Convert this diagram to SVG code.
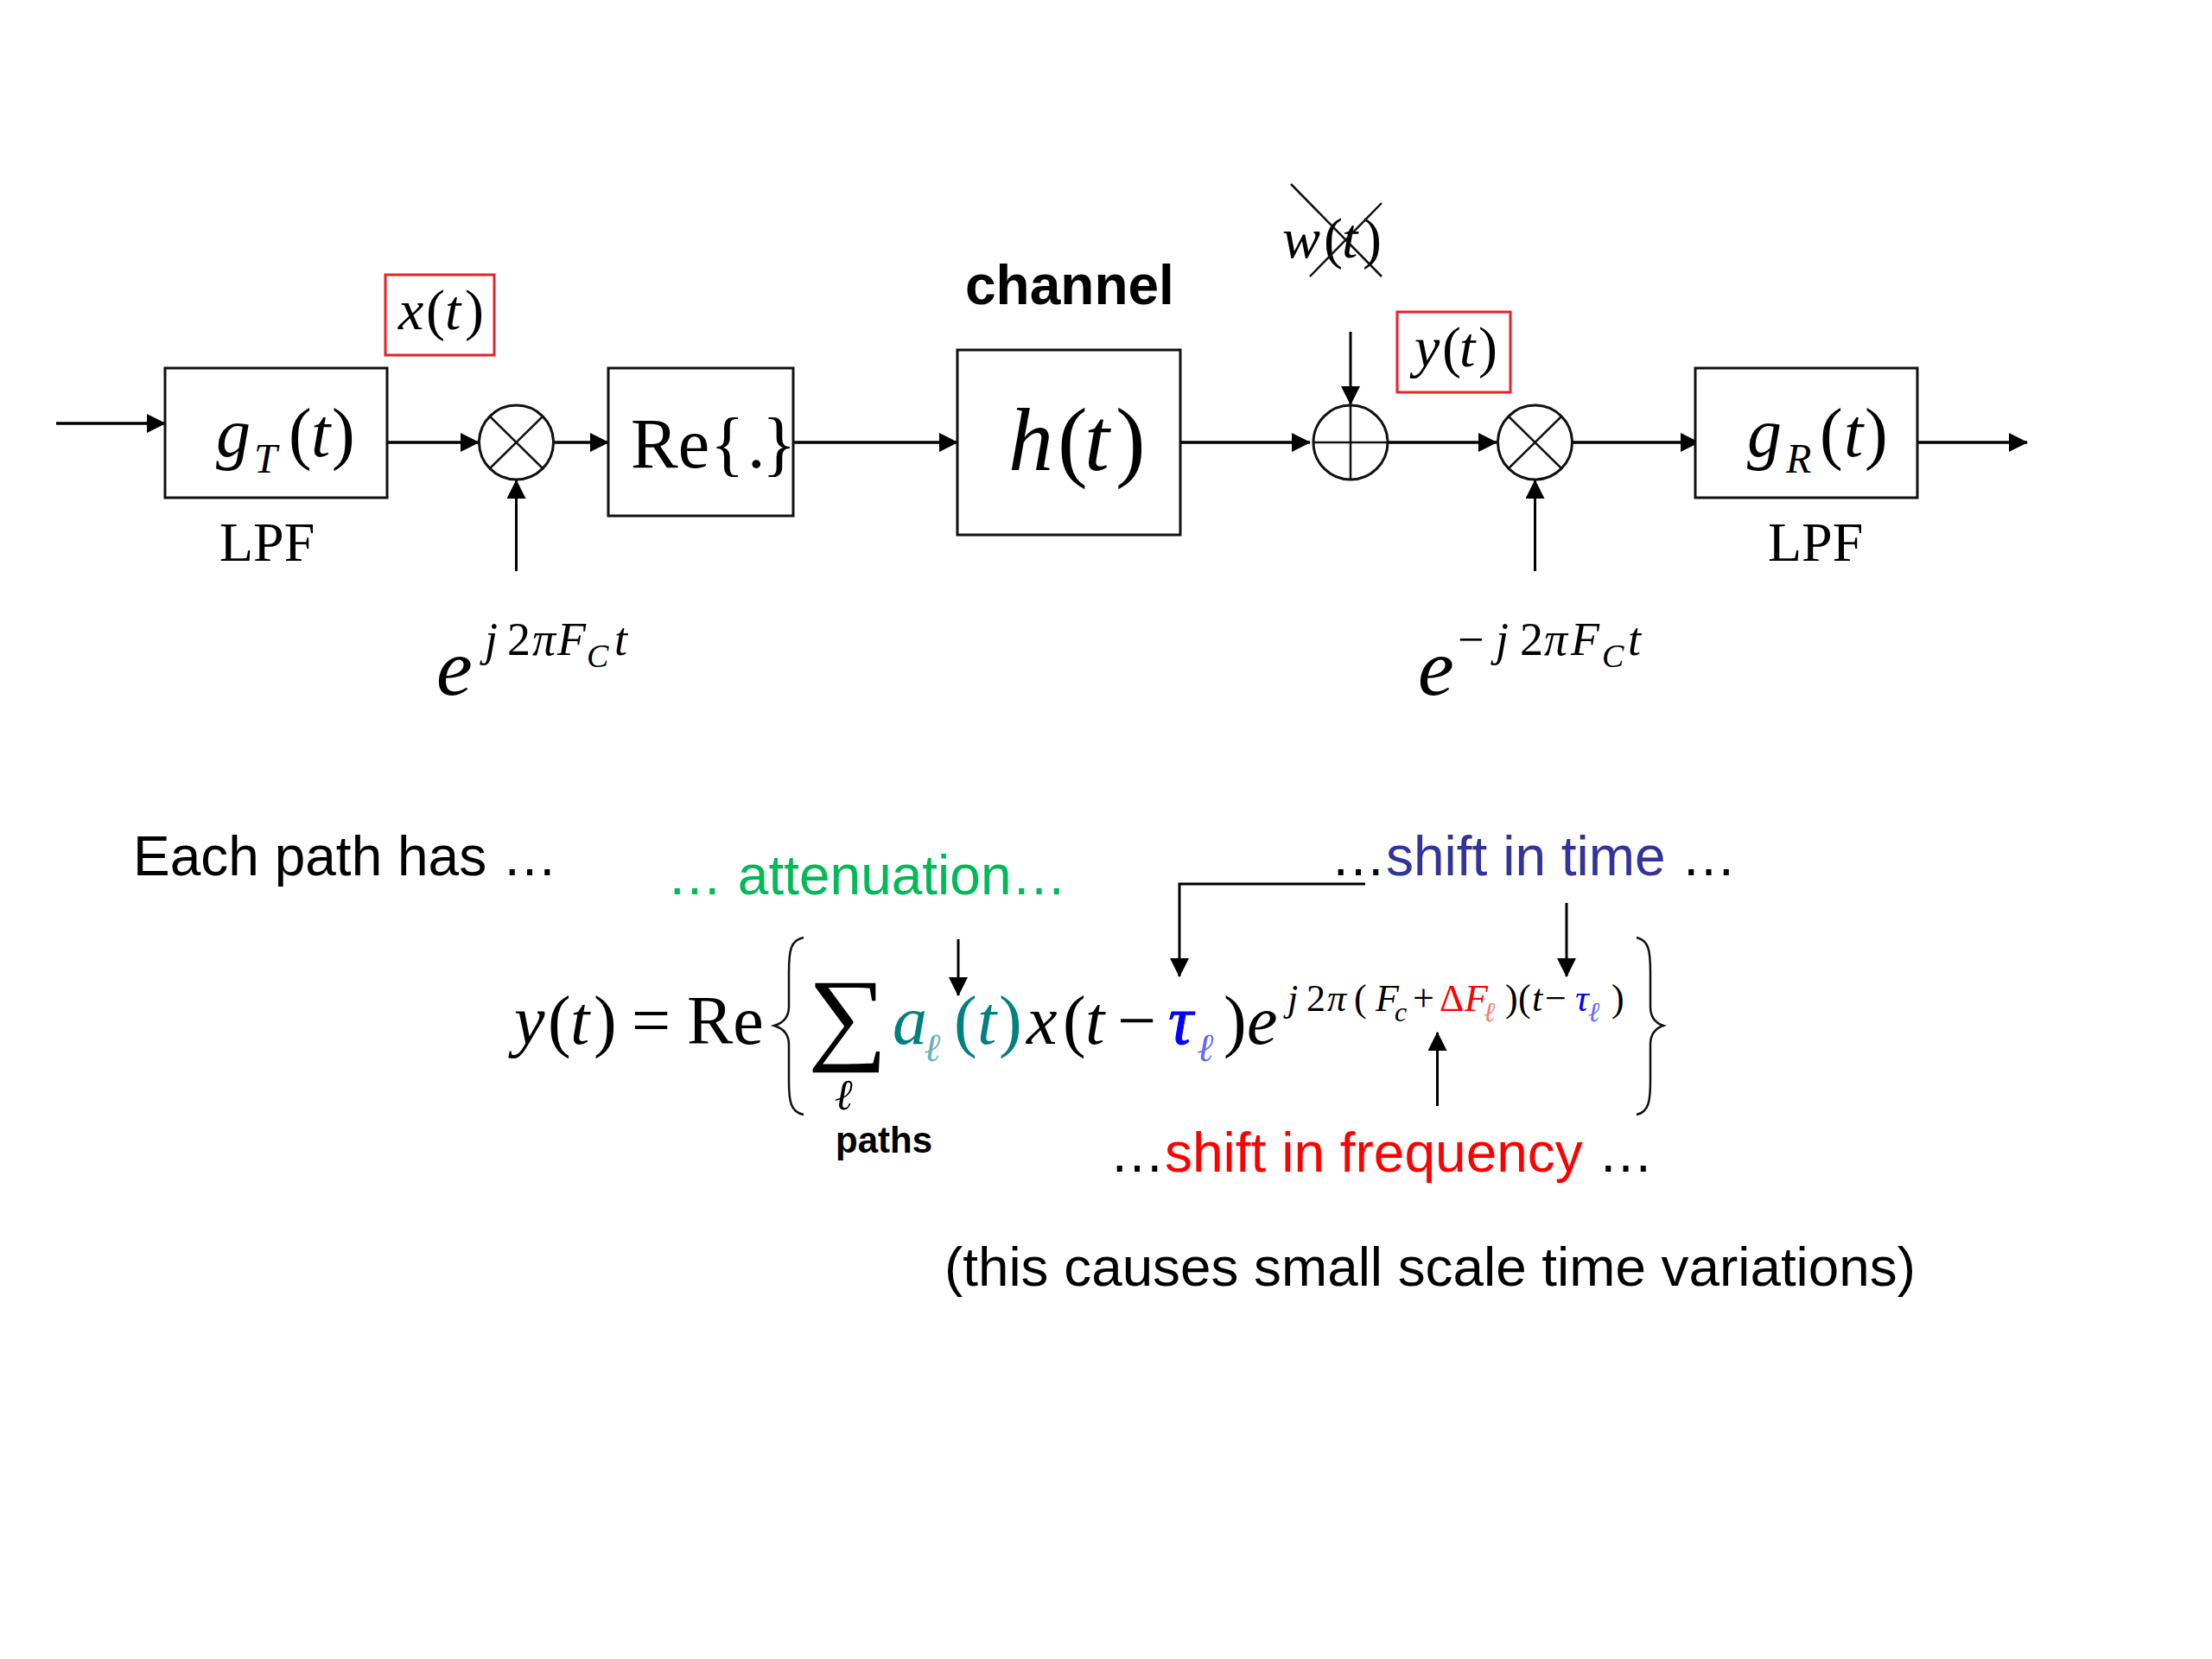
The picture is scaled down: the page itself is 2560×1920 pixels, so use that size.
<svg xmlns="http://www.w3.org/2000/svg" width="2560" height="1920" viewBox="0 0 2560 1920">
<style>
text{font-family:"Liberation Serif","DejaVu Serif",serif;fill:#000}
.i{font-style:italic}
.a{font-family:"Liberation Sans",Arial,sans-serif}
.box{fill:#fff;stroke:#111;stroke-width:3}
.red{fill:#fff;stroke:#e8202a;stroke-width:3}
.circ{fill:none;stroke:#111;stroke-width:3}
.thin{fill:none;stroke:#111;stroke-width:2.5}
.c{fill:none;stroke:#000;stroke-width:3.5}
.v{fill:none;stroke:#000;stroke-width:3}
.teal{fill:#008080}.lteal{fill:#66b3b3}.blue{fill:#0000ff}.lblue{fill:#6666ff}.redt{fill:#ff0000}.lred{fill:#ff7777}
</style>
<defs>
<marker id="ah" markerUnits="userSpaceOnUse" markerWidth="22" markerHeight="22" refX="21" refY="11" orient="auto"><path d="M0 0L22 11L0 22z" fill="#000"/></marker>
</defs>
<rect width="2560" height="1920" fill="#fff"/>
<g id="connectors">
<path class="c" d="M65 490H191" marker-end="url(#ah)"/>
<path class="c" d="M448 512H554" marker-end="url(#ah)"/>
<path class="c" d="M641 512H704" marker-end="url(#ah)"/>
<path class="c" d="M918 512H1108" marker-end="url(#ah)"/>
<path class="c" d="M1366 512H1516" marker-end="url(#ah)"/>
<path class="c" d="M1606 512H1732" marker-end="url(#ah)"/>
<path class="c" d="M1820 512H1966" marker-end="url(#ah)"/>
<path class="c" d="M2219 512H2346" marker-end="url(#ah)"/>
<path class="v" d="M597.500 661V556" marker-end="url(#ah)"/>
<path class="v" d="M1776.500 661V556" marker-end="url(#ah)"/>
<path class="v" d="M1563 384V468" marker-end="url(#ah)"/>
<path class="v" d="M1109 1087V1152" marker-end="url(#ah)"/>
<path class="v" d="M1580 1023H1365V1130" marker-end="url(#ah)"/>
<path class="v" d="M1813 1045V1130" marker-end="url(#ah)"/>
<path class="v" d="M1663.500 1280V1195" marker-end="url(#ah)"/>
</g>
<g id="gT"><rect class="box" x="191" y="426" width="257" height="150"/>
<text class="i" font-size="80" x="250" y="528">g</text><text class="i" font-size="48" x="294" y="547">T</text><text font-size="80" x="334" y="528">(</text><text class="i" font-size="80" x="360" y="528">t</text><text font-size="80" x="384" y="528">)</text></g>
<g id="lpf1"><text font-size="64" x="254" y="649">LPF</text></g>
<g id="xt"><rect class="red" x="446" y="318" width="126" height="93"/>
<text class="i" font-size="66" x="461" y="381">x</text><text font-size="66" x="493" y="381">(</text><text class="i" font-size="66" x="515" y="381">t</text><text font-size="66" x="538" y="381">)</text></g>
<g id="mix1"><circle class="circ" cx="597.500" cy="512" r="43"/><path class="thin" d="M567 482L628 542M628 482L567 542"/></g>
<g id="exp1"><text class="i" font-size="94" x="505" y="804">e</text>
<text class="i" font-size="54" x="561" y="758">j</text><text font-size="54" x="587" y="758">2</text><text class="i" font-size="54" x="616" y="758">π</text><text class="i" font-size="54" x="645" y="758">F</text><text class="i" font-size="38" x="679" y="772">C</text><text class="i" font-size="54" x="711" y="758">t</text></g>
<g id="re"><rect class="box" x="704" y="426" width="214" height="171"/>
<text font-size="82" x="730" y="541">Re</text><text font-size="82" x="822" y="541">{</text><text font-size="82" x="865" y="541">.</text><text font-size="82" x="882" y="541">}</text></g>
<g id="channel"><text class="a" font-weight="bold" font-size="64" x="1117" y="352">channel</text>
<rect class="box" x="1108" y="405" width="258" height="214"/>
<text class="i" font-size="104" x="1167" y="544">h</text><text font-size="104" x="1224" y="544">(</text><text class="i" font-size="104" x="1255" y="544">t</text><text font-size="104" x="1291" y="544">)</text></g>
<g id="noise"><text class="i" font-size="66" x="1484" y="298">w</text><text font-size="66" x="1532" y="298">(</text><text class="i" font-size="66" x="1553" y="298">t</text><text font-size="66" x="1577" y="298">)</text>
<path class="thin" d="M1494 213L1599 320M1599 235L1516 320"/></g>
<g id="add"><circle class="circ" cx="1563" cy="512" r="43"/><path class="thin" d="M1520 512H1606M1563 469V555"/></g>
<g id="yt"><rect class="red" x="1617" y="361" width="131" height="93"/>
<text class="i" font-size="66" x="1637" y="424">y</text><text font-size="66" x="1669" y="424">(</text><text class="i" font-size="66" x="1689" y="424">t</text><text font-size="66" x="1711" y="424">)</text></g>
<g id="mix2"><circle class="circ" cx="1776.500" cy="512" r="43"/><path class="thin" d="M1746 482L1807 542M1807 482L1746 542"/></g>
<g id="exp2"><text class="i" font-size="94" x="1641" y="804">e</text>
<text font-size="54" x="1687" y="758">−</text><text class="i" font-size="54" x="1731" y="758">j</text><text font-size="54" x="1759" y="758">2</text><text class="i" font-size="54" x="1787" y="758">π</text><text class="i" font-size="54" x="1818" y="758">F</text><text class="i" font-size="38" x="1854" y="772">C</text><text class="i" font-size="54" x="1884" y="758">t</text></g>
<g id="gR"><rect class="box" x="1962" y="426" width="257" height="150"/>
<text class="i" font-size="80" x="2022" y="528">g</text><text class="i" font-size="48" x="2067" y="547">R</text><text font-size="80" x="2106" y="528">(</text><text class="i" font-size="80" x="2134" y="528">t</text><text font-size="80" x="2158" y="528">)</text></g>
<g id="lpf2"><text font-size="64" x="2046" y="649">LPF</text></g>
<g id="labels">
<text class="a" font-size="64" x="154" y="1013">Each path has …</text>
<text class="a" font-size="64" x="772" y="1035" style="fill:#00bb55">… attenuation…</text>
<text class="a" font-size="64" x="1540" y="1013">…<tspan style="fill:#333399">shift in time</tspan> …</text>
<text class="a" font-size="64" x="1284" y="1356">…<tspan class="redt">shift in frequency</tspan> …</text>
<text class="a" font-weight="bold" font-size="42" x="967" y="1334">paths</text>
<text class="a" font-size="63.800" x="1093" y="1488">(this causes small scale time variations)</text>
</g>
<g id="formula">
<text class="i" font-size="80" x="595" y="1208">y</text><text font-size="80" x="634" y="1208">(</text><text class="i" font-size="80" x="660" y="1208">t</text><text font-size="80" x="687" y="1208">)</text>
<text font-size="80" x="731" y="1208">=</text><text font-size="80" x="795" y="1208">Re</text>
<path class="thin" d="M930 1085C915 1088 913 1100 913 1125V1165C913 1178 906 1184 896 1187C906 1190 913 1196 913 1209V1250C913 1275 915 1287 930 1290"/>
<text font-size="120" transform="translate(935 1216) scale(1.08 1)">∑</text>
<text class="i" font-size="50" x="966" y="1284">ℓ</text>
<text class="i teal" font-size="80" x="1033" y="1208">a</text><text class="i lteal" font-size="46" x="1069" y="1228">ℓ</text>
<text class="teal" font-size="80" x="1104" y="1208">(</text><text class="i teal" font-size="80" x="1131" y="1208">t</text><text class="teal" font-size="80" x="1156" y="1208">)</text>
<text class="i" font-size="80" x="1188" y="1208">x</text><text font-size="80" x="1230" y="1208">(</text><text class="i" font-size="80" x="1256" y="1208">t</text>
<text font-size="80" x="1293" y="1208">−</text><text class="i blue" font-size="80" x="1352" y="1208" stroke="#0000ff" stroke-width="1">τ</text><text class="i lblue" font-size="46" x="1385" y="1228">ℓ</text>
<text font-size="80" x="1416" y="1208">)</text><text class="i" font-size="80" x="1443" y="1208">e</text>
<text class="i" font-size="44" x="1490" y="1170">j</text><text font-size="44" x="1512" y="1170">2</text><text class="i" font-size="44" x="1536" y="1170">π</text><text font-size="44" x="1567" y="1170">(</text><text class="i" font-size="44" x="1592" y="1170">F</text><text class="i" font-size="32" x="1614" y="1182">c</text><text font-size="44" x="1635" y="1170">+</text>
<text class="redt" font-size="44" x="1666" y="1170">Δ</text><text class="i redt" font-size="44" x="1695" y="1170">F</text><text class="i lred" font-size="32" x="1717" y="1182">ℓ</text>
<text font-size="44" x="1742" y="1170">)</text><text font-size="44" x="1757" y="1170">(</text><text class="i" font-size="44" x="1773" y="1170">t</text><text font-size="44" x="1788" y="1170">−</text><text class="i blue" font-size="44" x="1823" y="1170">τ</text><text class="i lblue" font-size="32" x="1838" y="1182">ℓ</text><text font-size="44" x="1865" y="1170">)</text>
<path class="thin" d="M1894 1085C1908 1088 1910 1100 1910 1125V1165C1910 1178 1916 1184 1925 1187C1916 1190 1910 1196 1910 1209V1250C1910 1275 1908 1287 1894 1290"/>
</g>
</svg>
